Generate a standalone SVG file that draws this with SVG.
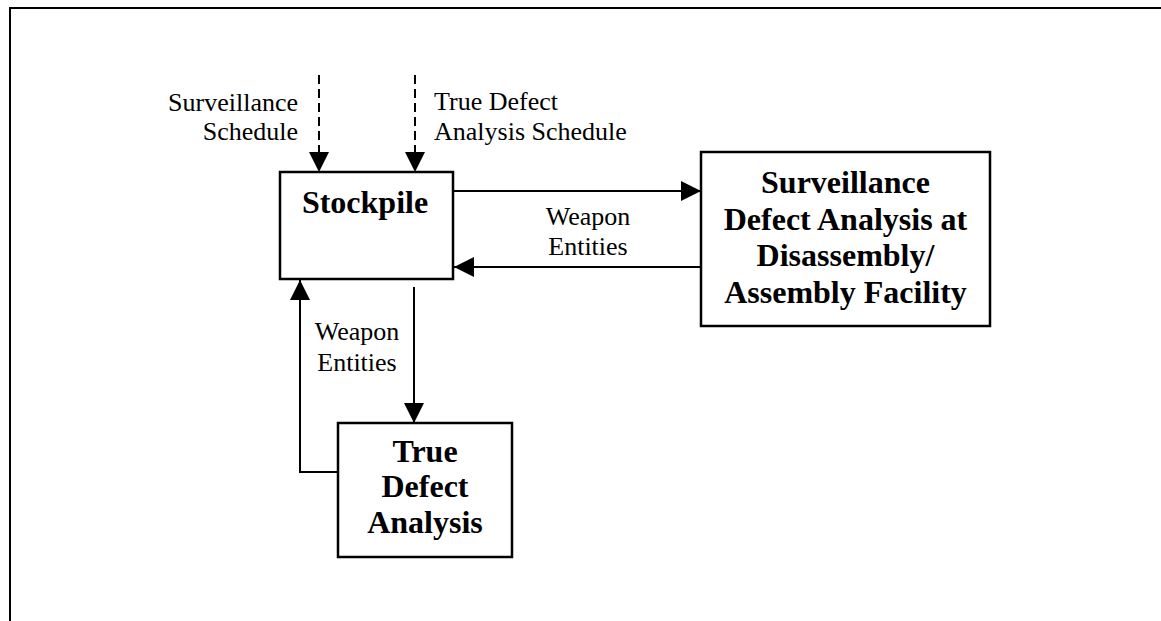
<svg xmlns="http://www.w3.org/2000/svg" width="1161" height="621" viewBox="0 0 1161 621">
<defs>
<marker id="ah" viewBox="0 0 20 20" refX="20" refY="10" markerWidth="20" markerHeight="20" markerUnits="userSpaceOnUse" orient="auto">
<path d="M0,0 L20,10 L0,20 Z" fill="#000"/>
</marker>
<style>
.box{fill:#fff;stroke:#000;stroke-width:2.5}
.ln{fill:none;stroke:#000;stroke-width:2}
.dash{fill:none;stroke:#000;stroke-width:2;stroke-dasharray:9 5}
.lbl{font-family:"Liberation Serif","Times New Roman",serif;font-size:26px;fill:#000}
.ttl{font-family:"Liberation Serif","Times New Roman",serif;font-size:32px;font-weight:bold;fill:#000;text-anchor:middle}
</style>
</defs>
<rect width="1161" height="621" fill="#fff"/>
<g id="frame">
<path class="ln" d="M10,621 L10,8 L1161,8" stroke-width="2.5"/>
</g>
<g id="connectors">
<path class="dash" d="M319,75 L319,172" marker-end="url(#ah)"/>
<path class="dash" d="M415,75 L415,172" marker-end="url(#ah)"/>
<path class="ln" d="M453,191 L701,191" marker-end="url(#ah)"/>
<path class="ln" d="M701,267 L454,267" marker-end="url(#ah)"/>
<path class="ln" d="M414,287 L414,423" marker-end="url(#ah)"/>
<path class="ln" d="M338,472 L300,472 L300,280" marker-end="url(#ah)"/>
<text class="lbl" x="298" y="111" text-anchor="end">Surveillance</text>
<text class="lbl" x="298" y="140" text-anchor="end">Schedule</text>
<text class="lbl" x="434" y="110">True Defect</text>
<text class="lbl" x="434" y="140">Analysis Schedule</text>
<text class="lbl" x="588" y="225" text-anchor="middle">Weapon</text>
<text class="lbl" x="588" y="255" text-anchor="middle">Entities</text>
<text class="lbl" x="357" y="340" text-anchor="middle">Weapon</text>
<text class="lbl" x="357" y="371" text-anchor="middle">Entities</text>
</g>
<g id="stockpile">
<rect class="box" x="280" y="172" width="173" height="107"/>
<text class="ttl" x="365" y="213">Stockpile</text>
</g>
<g id="surveillance">
<rect class="box" x="701" y="152" width="289" height="174"/>
<text class="ttl" x="845.5" y="193">Surveillance</text>
<text class="ttl" x="845.5" y="230">Defect Analysis at</text>
<text class="ttl" x="845.5" y="266">Disassembly/</text>
<text class="ttl" x="845.5" y="303">Assembly Facility</text>
</g>
<g id="truedefect">
<rect class="box" x="338" y="423" width="174" height="134"/>
<text class="ttl" x="425" y="462">True</text>
<text class="ttl" x="425" y="497">Defect</text>
<text class="ttl" x="425" y="533">Analysis</text>
</g>
</svg>
